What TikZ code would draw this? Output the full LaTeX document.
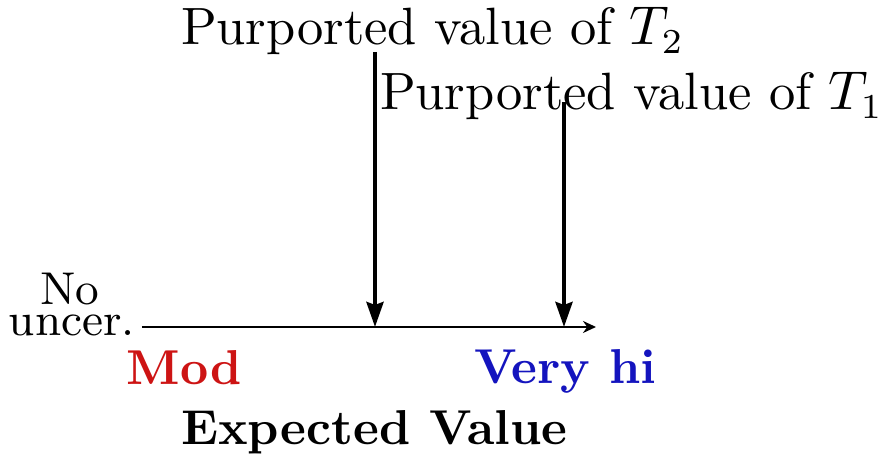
\documentclass[tikz,border=0pt]{standalone}
\usetikzlibrary{arrows.meta, positioning}
\definecolor{modred}{RGB}{205,20,20}
\definecolor{hiblue}{RGB}{20,20,190}

\begin{document}
\begin{tikzpicture}[
    x=0.2pt, y=-0.2pt,
    every node/.style={inner sep=0pt, font=\fontsize{10.5}{12}\selectfont},
    label/.style={anchor=base west},
    small/.style={anchor=base, font=\fontsize{9.2}{10}\selectfont},
    level/.style={anchor=base west, font=\fontsize{9.8}{11}\selectfont\bfseries},
    axis/.style={-{Stealth[length=2.6pt, width=2.4pt]}},
    arrow/.style={-{Stealth[length=5pt, width=3.4pt, inset=0.6pt]}, thick}
]
    \useasboundingbox (0,0) rectangle (883,461);

    % expected value axis
    \coordinate (lo) at (142,327);
    \coordinate (hi) at (596,327);
    \coordinate (t2) at (375,327);
    \coordinate (t1) at (564,327);
    \draw[axis] (lo) -- (hi);

    % purported values
    \node[label] (lblT2) at (180,45) {Purported value of $T_2$};
    \node[label] (lblT1) at (379,110) {Purported value of $T_1$};
    \coordinate (top2) at (375,52);
    \coordinate (top1) at (564,102);
    \draw[arrow] (top2) -- (t2);
    \draw[arrow] (top1) -- (t1);

    % axis labels
    \node[small] (uncer) at (72,336) {uncer.};
    \node[small] (no) at (70,305) {No};
    \node[level, text=modred] (mod) at (126,385) {Mod};
    \node[level, text=hiblue] (veryhi) at (473,384) {Very hi};
    \node[level] (expval) at (180,445) {Expected Value};
\end{tikzpicture}
\end{document}
